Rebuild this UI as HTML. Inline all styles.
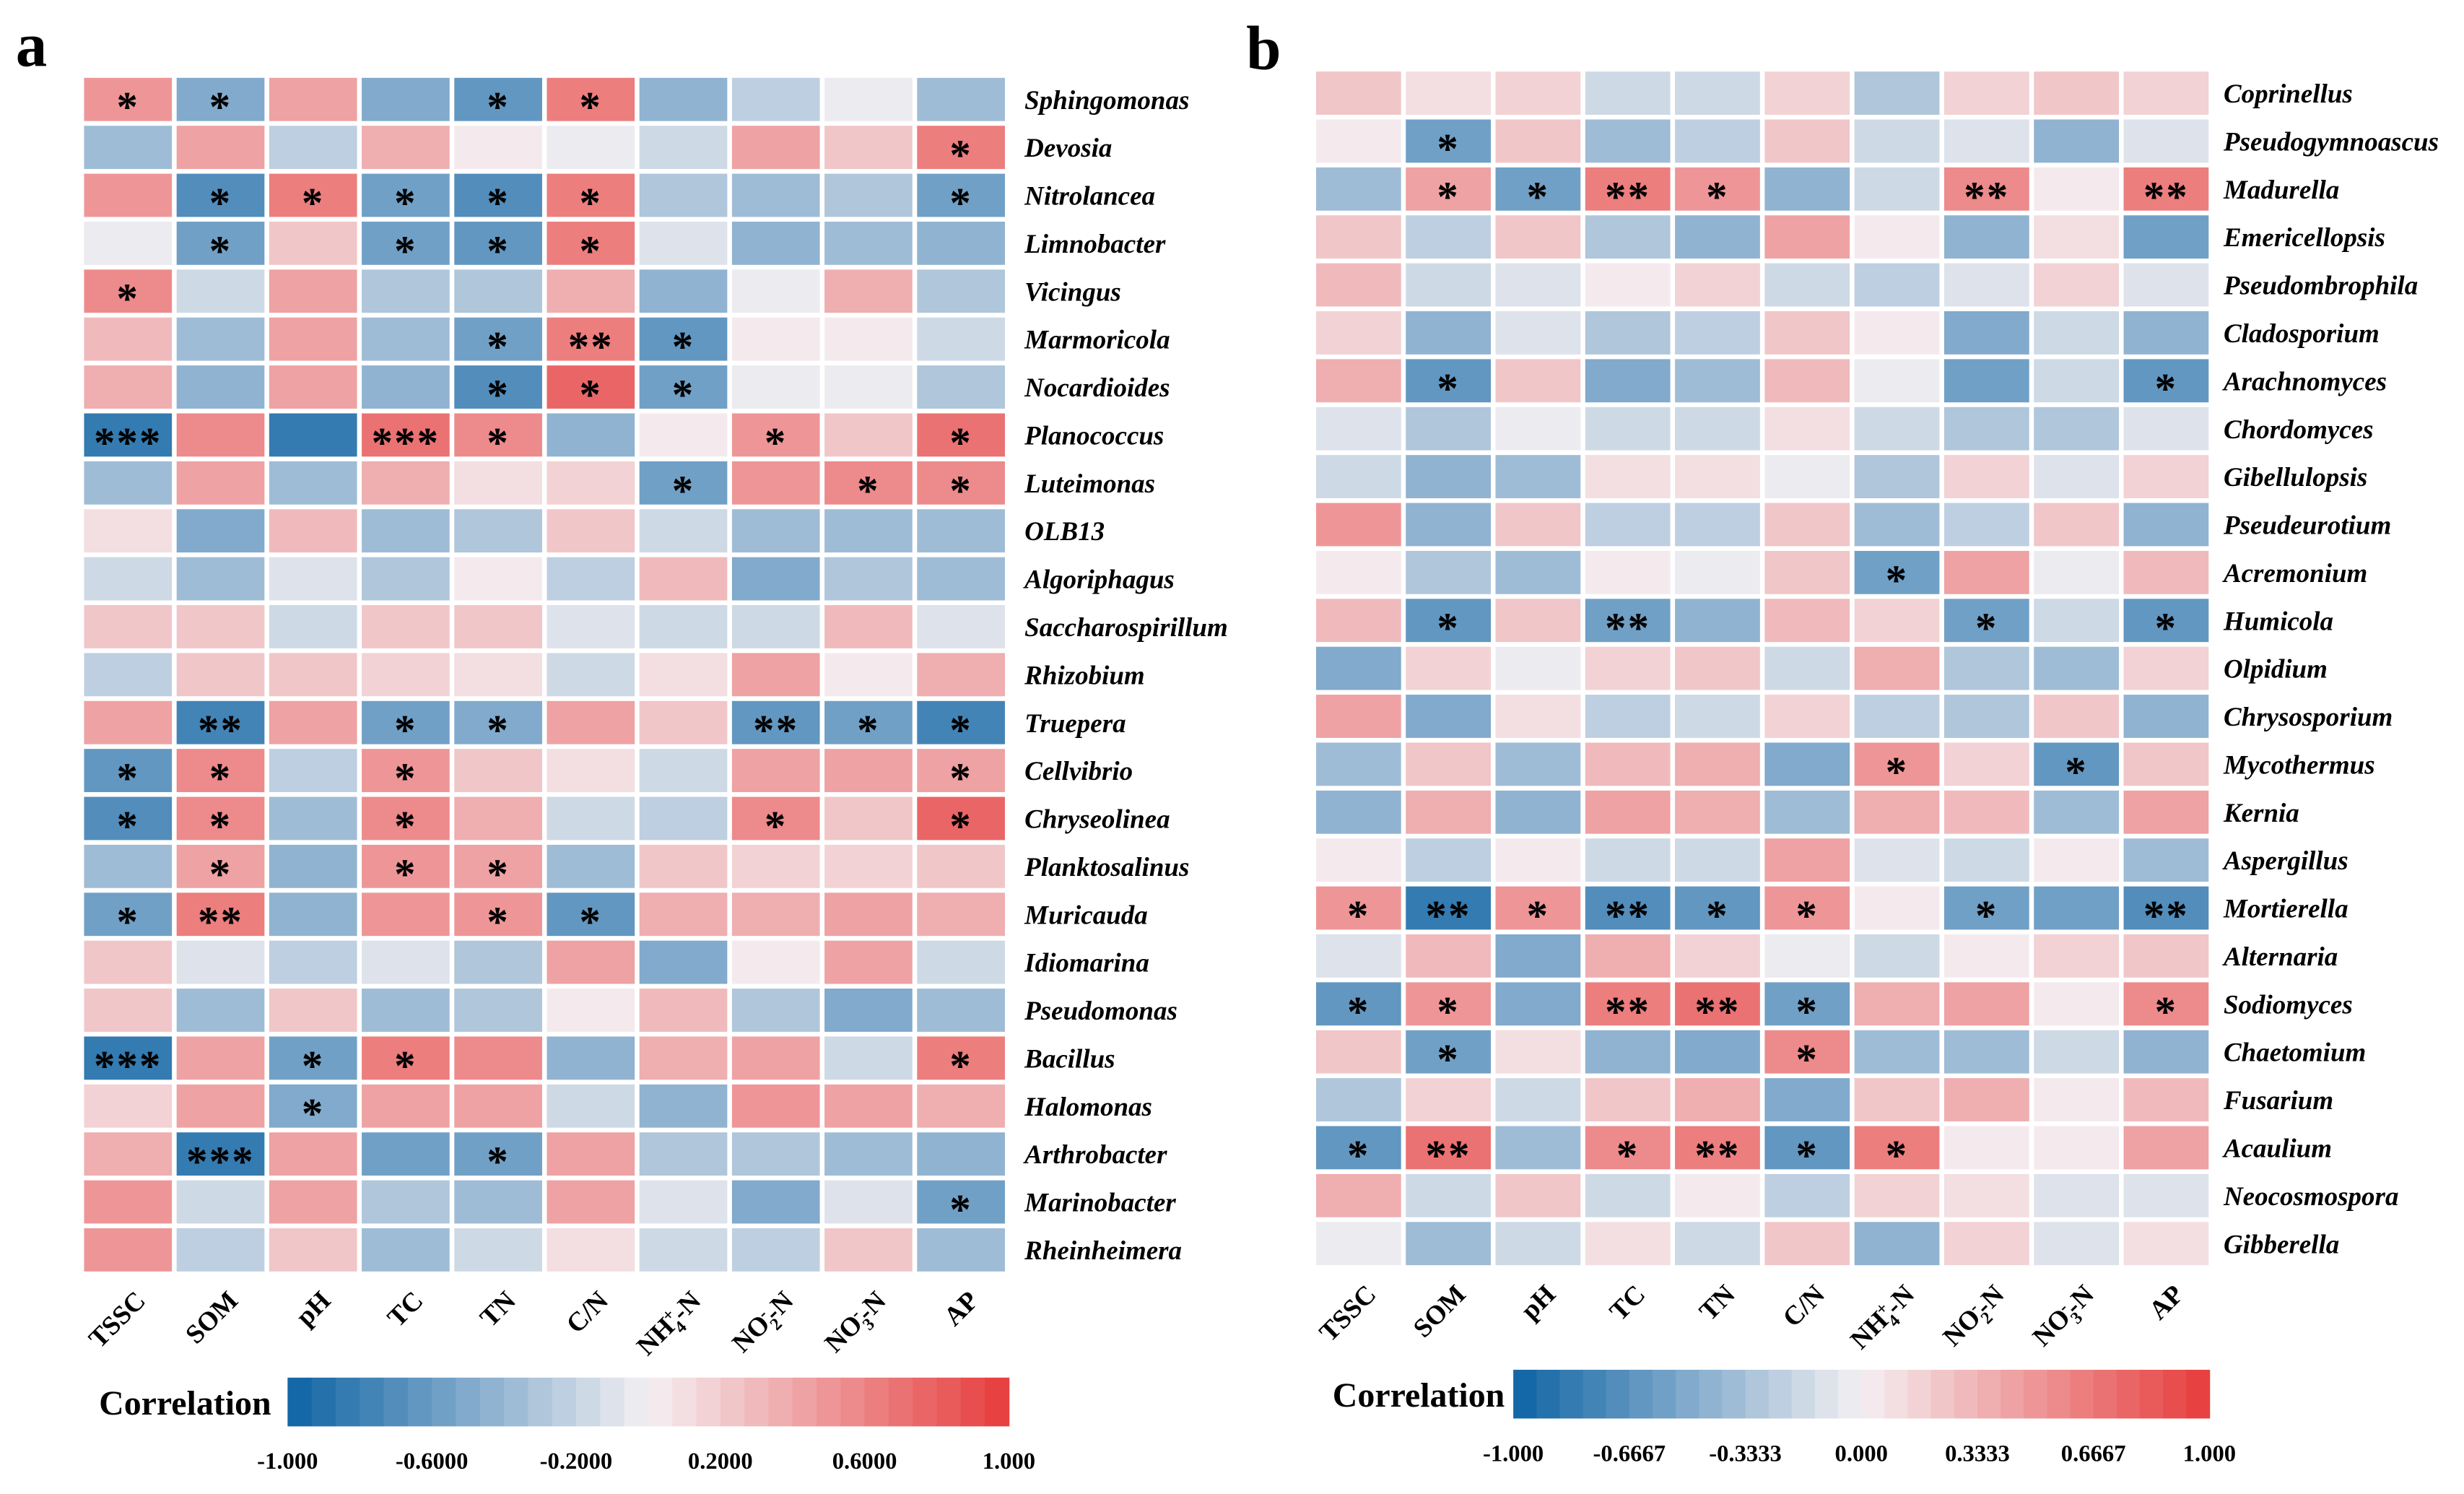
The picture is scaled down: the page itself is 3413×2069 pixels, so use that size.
<!DOCTYPE html>
<html><head><meta charset="utf-8"><style>
html,body{margin:0;padding:0;background:#fff;}
svg{display:block;}
text{font-family:"Liberation Serif",serif;font-weight:bold;fill:#000;}
</style></head><body>
<svg id="chart" width="3413" height="2069" viewBox="0 0 1568 950" preserveAspectRatio="none" xmlns="http://www.w3.org/2000/svg">
<rect x="0" y="0" width="1568" height="950" fill="#fff"/>
<text x="10" y="42" font-size="40">a</text>
<text x="793" y="44" font-size="40">b</text>
<g id="ga"></g>
<g id="gb"></g>
</svg>
<script>
const columns = ["TSSC","SOM","pH","TC","TN","C/N","NH4+-N","NO2--N","NO3--N","AP"];
const rowsA = ["Sphingomonas","Devosia","Nitrolancea","Limnobacter","Vicingus","Marmoricola","Nocardioides","Planococcus","Luteimonas","OLB13","Algoriphagus","Saccharospirillum","Rhizobium","Truepera","Cellvibrio","Chryseolinea","Planktosalinus","Muricauda","Idiomarina","Pseudomonas","Bacillus","Halomonas","Arthrobacter","Marinobacter","Rheinheimera"];
const valuesA = [
[0.5,-0.5,0.45,-0.5,-0.65,0.6,-0.45,-0.25,-0.05,-0.35],
[-0.35,0.4,-0.25,0.35,0.05,-0.05,-0.15,0.45,0.25,0.6],
[0.5,-0.7,0.6,-0.6,-0.7,0.6,-0.3,-0.4,-0.3,-0.6],
[-0.05,-0.6,0.25,-0.55,-0.65,0.6,-0.1,-0.45,-0.4,-0.45],
[0.55,-0.2,0.4,-0.3,-0.3,0.35,-0.45,-0.05,0.35,-0.3],
[0.3,-0.35,0.4,-0.35,-0.6,0.65,-0.65,0.05,0.05,-0.2],
[0.35,-0.45,0.4,-0.45,-0.7,0.75,-0.6,-0.05,-0.05,-0.3],
[-0.85,0.55,-0.8,0.7,0.55,-0.45,0.05,0.5,0.2,0.7],
[-0.35,0.4,-0.35,0.35,0.1,0.15,-0.6,0.5,0.55,0.55],
[0.1,-0.5,0.3,-0.35,-0.3,0.2,-0.15,-0.35,-0.4,-0.4],
[-0.15,-0.4,-0.1,-0.3,0.05,-0.25,0.3,-0.5,-0.3,-0.35],
[0.2,0.2,-0.15,0.2,0.2,-0.1,-0.15,-0.15,0.3,-0.1],
[-0.25,0.25,0.2,0.15,0.1,-0.15,0.1,0.4,0.05,0.35],
[0.45,-0.75,0.45,-0.6,-0.5,0.45,0.2,-0.65,-0.55,-0.75],
[-0.65,0.55,-0.25,0.5,0.25,0.1,-0.2,0.4,0.45,0.45],
[-0.7,0.55,-0.35,0.55,0.35,-0.2,-0.25,0.55,0.25,0.75],
[-0.4,0.45,-0.45,0.5,0.45,-0.35,0.2,0.15,0.15,0.25],
[-0.55,0.6,-0.45,0.5,0.5,-0.65,0.35,0.35,0.4,0.35],
[0.25,-0.1,-0.25,-0.1,-0.3,0.45,-0.5,0.05,0.45,-0.15],
[0.2,-0.4,0.2,-0.4,-0.3,0.05,0.3,-0.3,-0.5,-0.4],
[-0.85,0.4,-0.55,0.6,0.55,-0.45,0.35,0.45,-0.2,0.6],
[0.15,0.4,-0.5,0.45,0.45,-0.15,-0.45,0.5,0.45,0.35],
[0.35,-0.85,0.4,-0.6,-0.6,0.4,-0.3,-0.3,-0.35,-0.45],
[0.5,-0.15,0.4,-0.3,-0.35,0.4,-0.1,-0.5,-0.1,-0.6],
[0.5,-0.25,0.25,-0.35,-0.2,0.1,-0.15,-0.25,0.2,-0.4]];
const starsA = [
["*","*","","","*","*","","","",""],
["","","","","","","","","","*"],
["","*","*","*","*","*","","","","*"],
["","*","","*","*","*","","","",""],
["*","","","","","","","","",""],
["","","","","*","**","*","","",""],
["","","","","*","*","*","","",""],
["***","","","***","*","","","*","","*"],
["","","","","","","*","","*","*"],
["","","","","","","","","",""],
["","","","","","","","","",""],
["","","","","","","","","",""],
["","","","","","","","","",""],
["","**","","*","*","","","**","*","*"],
["*","*","","*","","","","","","*"],
["*","*","","*","","","","*","","*"],
["","*","","*","*","","","","",""],
["*","**","","","*","*","","","",""],
["","","","","","","","","",""],
["","","","","","","","","",""],
["***","","*","*","","","","","","*"],
["","","*","","","","","","",""],
["","***","","","*","","","","",""],
["","","","","","","","","","*"],
["","","","","","","","","",""]];
const rowsB = ["Coprinellus","Pseudogymnoascus","Madurella","Emericellopsis","Pseudombrophila","Cladosporium","Arachnomyces","Chordomyces","Gibellulopsis","Pseudeurotium","Acremonium","Humicola","Olpidium","Chrysosporium","Mycothermus","Kernia","Aspergillus","Mortierella","Alternaria","Sodiomyces","Chaetomium","Fusarium","Acaulium","Neocosmospora","Gibberella"];
const valuesB = [
[0.25,0.1,0.15,-0.15,-0.2,0.15,-0.3,0.15,0.25,0.15],
[0.05,-0.6,0.2,-0.35,-0.25,0.2,-0.15,-0.1,-0.45,-0.1],
[-0.4,0.45,-0.55,0.6,0.5,-0.45,-0.15,0.55,0.05,0.62],
[0.25,-0.25,0.25,-0.3,-0.45,0.45,0.05,-0.45,0.1,-0.55],
[0.3,-0.2,-0.1,0.05,0.15,-0.15,-0.25,-0.1,0.15,-0.1],
[0.15,-0.45,-0.1,-0.3,-0.25,0.2,0.05,-0.5,-0.2,-0.45],
[0.35,-0.65,0.25,-0.5,-0.4,0.3,-0.05,-0.6,-0.15,-0.65],
[-0.1,-0.3,-0.05,-0.15,-0.2,0.1,-0.2,-0.3,-0.3,-0.1],
[-0.2,-0.45,-0.35,0.1,0.1,-0.05,-0.3,0.15,-0.1,0.15],
[0.5,-0.45,0.25,-0.25,-0.25,0.25,-0.35,-0.25,0.25,-0.45],
[0.05,-0.3,-0.35,0.05,-0.05,0.25,-0.55,0.4,-0.05,0.3],
[0.3,-0.65,0.25,-0.6,-0.45,0.3,0.15,-0.6,-0.15,-0.65],
[-0.5,0.15,-0.05,0.15,0.2,-0.15,0.35,-0.3,-0.35,0.15],
[0.45,-0.5,0.1,-0.25,-0.2,0.15,-0.25,-0.3,0.2,-0.45],
[-0.35,0.2,-0.35,0.3,0.35,-0.5,0.5,0.15,-0.65,0.25],
[-0.45,0.35,-0.45,0.4,0.35,-0.35,0.35,0.3,-0.35,0.45],
[0.05,-0.25,0.05,-0.2,-0.2,0.4,-0.1,-0.2,0.05,-0.35],
[0.5,-0.8,0.5,-0.7,-0.65,0.5,0.05,-0.6,-0.6,-0.7],
[-0.1,0.3,-0.5,0.35,0.15,-0.05,-0.15,0.05,0.15,0.25],
[-0.65,0.5,-0.5,0.6,0.7,-0.6,0.35,0.4,0.05,0.55],
[0.2,-0.6,0.1,-0.45,-0.5,0.55,-0.35,-0.35,-0.2,-0.45],
[-0.3,0.15,-0.2,0.2,0.35,-0.5,0.25,0.35,0.05,0.3],
[-0.65,0.7,-0.35,0.55,0.6,-0.65,0.6,0.05,0.05,0.4],
[0.35,-0.15,0.25,-0.2,0.05,-0.25,0.15,0.1,-0.1,-0.1],
[-0.05,-0.35,-0.15,0.1,-0.15,0.25,-0.45,0.15,-0.1,0.1]];
const starsB = [
["","","","","","","","","",""],
["","*","","","","","","","",""],
["","*","*","**","*","","","**","","**"],
["","","","","","","","","",""],
["","","","","","","","","",""],
["","","","","","","","","",""],
["","*","","","","","","","","*"],
["","","","","","","","","",""],
["","","","","","","","","",""],
["","","","","","","","","",""],
["","","","","","","*","","",""],
["","*","","**","","","","*","","*"],
["","","","","","","","","",""],
["","","","","","","","","",""],
["","","","","","","*","","*",""],
["","","","","","","","","",""],
["","","","","","","","","",""],
["*","**","*","**","*","*","","*","","**"],
["","","","","","","","","",""],
["*","*","","**","**","*","","","","*"],
["","*","","","","*","","","",""],
["","","","","","","","","",""],
["*","**","","*","**","*","*","","",""],
["","","","","","","","","",""],
["","","","","","","","","",""]];
const ticksA = ["-1.000","-0.6000","-0.2000","0.2000","0.6000","1.000"];
const ticksB = ["-1.000","-0.6667","-0.3333","0.000","0.3333","0.6667","1.000"];

const NS = "http://www.w3.org/2000/svg";
const BLUE=[13,99,164], MID=[244,240,243], RED=[231,60,59];
function color(v){
  const steps=30;
  let idx=Math.floor((v+1)/2*steps); if(idx>=steps)idx=steps-1; if(idx<0)idx=0;
  const t=(idx+0.5)/steps*2-1;
  let a,b,f;
  if(t<0){a=MID;b=BLUE;f=-t;}else{a=MID;b=RED;f=t;}
  const c=a.map((x,i)=>Math.round(x+(b[i]-x)*f));
  return "rgb("+c.join(",")+")";
}
function mk(tag,attrs,parent){const e=document.createElementNS(NS,tag);for(const k in attrs)e.setAttribute(k,attrs[k]);parent.appendChild(e);return e;}

function colLabel(g,name,x,y){
  const t=mk("text",{x:x,y:y,"font-size":17,"text-anchor":"end",transform:"rotate(-45 "+x+" "+y+")"},g);
  
  
  const m=name.match(/^(NH|NO)(\d)([+-])-N$/);
  if(m){
    mk("tspan",{},t).textContent=m[1];
    const s=mk("tspan",{"font-size":11,dy:5},t);s.textContent=m[2];
    const p=mk("tspan",{"font-size":11,dy:-11,dx:-6},t);p.textContent=m[3];
    const r=mk("tspan",{dy:6},t);r.textContent="-N";
  } else t.textContent=name;
}

function draw(gid,rows,vals,stars,x0,x1,y0,y1,labelX,legend){
  const g=document.getElementById(gid);
  const cw=(x1-x0)/columns.length, rh=(y1-y0)/rows.length;
  const xs=i=>x0+i*cw, ys=j=>y0+j*rh;
  for(let j=0;j<rows.length;j++){
    for(let i=0;i<columns.length;i++){
      const r=mk("rect",{x:xs(i)+1.5,y:ys(j)+1.5,width:cw-3,height:rh-3,fill:color(vals[j][i])},g);
      
      
      if(stars[j][i]){
        const t=mk("text",{x:xs(i)+cw/2,y:ys(j)+rh/2+14,"font-size":27,"text-anchor":"middle","font-weight":"normal","letter-spacing":"1"},g);
        
        
        t.textContent=stars[j][i];
      }
    }
    const l=mk("text",{x:labelX,y:ys(j)+rh/2+6,"font-size":17,"font-style":"italic"},g);
    
    
    l.textContent=rows[j];
  }
  columns.forEach((c,i)=>colLabel(g,c,xs(i)+cw/2+12,y1+18));
  // legend
  const L=legend;
  const lt=mk("text",{x:L.tx,y:L.y+(L.h/2)+8,"font-size":22},g);
  
  
  lt.textContent="Correlation";
  const n=30, sw=(L.x1-L.x0)/n;
  for(let k=0;k<n;k++){
    const v=-1+(k+0.5)/n*2;
    const r=mk("rect",{x:L.x0+k*sw,y:L.y,width:sw+0.4,height:L.h,fill:color(v)},g);
    
    
  }
  L.ticks.forEach((tk,k)=>{
    const x=L.x0+k*(L.x1-L.x0)/(L.ticks.length-1);
    const t=mk("text",{x:x,y:L.ty,"font-size":15,"text-anchor":"middle"},g);
    
    
    t.textContent=tk;
  });
}
draw("ga",rowsA,valuesA,starsA,52,641,48,810,652,{tx:63,x0:183,x1:642,y:876,h:31,ty:934,ticks:ticksA});
draw("gb",rowsB,valuesB,starsB,836,1407,44,806,1415,{tx:848,x0:963,x1:1406,y:871,h:31,ty:929,ticks:ticksB});
</script>
</body></html>
